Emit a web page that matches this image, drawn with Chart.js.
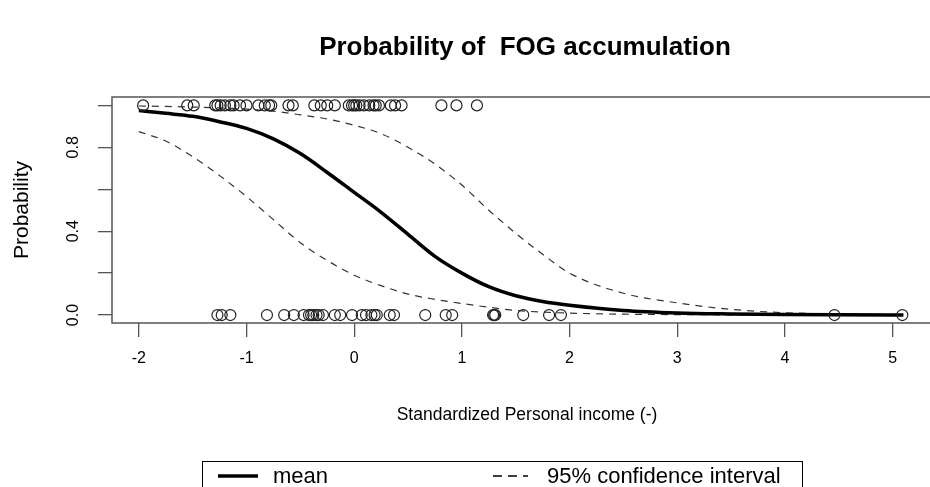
<!DOCTYPE html>
<html>
<head>
<meta charset="utf-8">
<script src="https://cdn.jsdelivr.net/npm/chart.js@4.4.0/dist/chart.umd.min.js"></script>
<style>
  html, body { margin: 0; padding: 0; background: #fff; }
</style>
</head>
<body>
<canvas id="fog" width="930" height="487"></canvas>
<script>
// fitted curves
const curveX = [-2, -1.75, -1.5, -1.25, -1, -0.75, -0.5, -0.25, 0, 0.25, 0.5, 0.75, 1, 1.25, 1.5, 1.75, 2, 2.5, 3, 3.5, 4, 4.5, 5, 5.1];
const meanProb = [0.975, 0.962, 0.948, 0.922, 0.89, 0.84, 0.77, 0.68, 0.585, 0.49, 0.385, 0.28, 0.2, 0.135, 0.092, 0.065, 0.047, 0.022, 0.01, 0.005, 0.002, 0.001, 0.0005, 0.0004];
const lowerCI = [0.875, 0.83, 0.755, 0.665, 0.565, 0.455, 0.345, 0.26, 0.19, 0.14, 0.1, 0.075, 0.055, 0.037, 0.022, 0.014, 0.009, 0.004, 0.002, 0.001, 0.0005, 0.0003, 0.0002, 0.0001];
const upperCI = [0.997, 0.995, 0.992, 0.988, 0.982, 0.972, 0.955, 0.935, 0.905, 0.865, 0.8, 0.72, 0.62, 0.5, 0.39, 0.29, 0.2, 0.104, 0.058, 0.027, 0.011, 0.005, 0.002, 0.0015];

// observations (income where FOG = 1 and FOG = 0)
const incomeFog1 = [-1.96, -1.55, -1.49, -1.29, -1.27, -1.24, -1.2, -1.15, -1.12, -1.06, -1.0, -0.89, -0.83, -0.79, -0.77, -0.61, -0.57, -0.37, -0.31, -0.25, -0.18, -0.05, -0.02, 0.0, 0.02, 0.05, 0.09, 0.14, 0.18, 0.2, 0.23, 0.34, 0.38, 0.44, 0.81, 0.95, 1.14];
const incomeFog0 = [-1.27, -1.23, -1.15, -0.81, -0.65, -0.56, -0.47, -0.42, -0.4, -0.38, -0.35, -0.33, -0.29, -0.18, -0.13, -0.02, 0.07, 0.11, 0.16, 0.19, 0.21, 0.33, 0.37, 0.66, 0.85, 0.91, 1.29, 1.3, 1.31, 1.57, 1.81, 1.92, 4.46, 5.09];

const xTicks = [-2, -1, 0, 1, 2, 3, 4, 5];
const yTicks = [0, 0.2, 0.4, 0.6, 0.8, 1.0];
const yTickLabels = ['0.0', '0.4', '0.8'];

const FONT = '"Liberation Sans", Arial, Helvetica, sans-serif';
const AXIS = '#555';

const toPts = (xs, ys) => xs.map((x, i) => ({ x: x, y: ys[i] }));

// R-style bits: box, title, axis titles, rotated y labels, legend
const rDecor = {
  id: 'rDecor',
  afterDraw(chart) {
    const { ctx, chartArea: a, scales } = chart;
    const y = scales.y;
    ctx.save();

    ctx.strokeStyle = AXIS;
    ctx.lineWidth = 1.5;
    ctx.strokeRect(a.left, a.top, a.right - a.left + 20, a.bottom - a.top);

    ctx.fillStyle = '#000';
    ctx.textAlign = 'center';
    ctx.textBaseline = 'middle';

    ctx.font = 'bold 26px ' + FONT;
    ctx.fillText('Probability of  FOG accumulation', 525, 48);

    ctx.font = '17.5px ' + FONT;
    ctx.fillText('Standardized Personal income (-)', 527, 415);

    ctx.save();
    ctx.font = '21px ' + FONT;
    ctx.translate(22, (a.top + a.bottom) / 2);
    ctx.rotate(-Math.PI / 2);
    ctx.fillText('Probability', 0, 0);
    ctx.restore();

    ctx.font = '16px ' + FONT;
    yTickLabels.forEach(lbl => {
      ctx.save();
      ctx.translate(74, y.getPixelForValue(parseFloat(lbl)));
      ctx.rotate(-Math.PI / 2);
      ctx.fillText(lbl, 0, 0);
      ctx.restore();
    });

    // legend
    ctx.strokeStyle = '#000';
    ctx.lineWidth = 1;
    ctx.strokeRect(202.5, 461.5, 600, 40);
    ctx.lineWidth = 3.5;
    ctx.beginPath();
    ctx.moveTo(218, 476);
    ctx.lineTo(258, 476);
    ctx.stroke();
    ctx.lineWidth = 1.3;
    ctx.setLineDash([9, 6]);
    ctx.beginPath();
    ctx.moveTo(493, 476);
    ctx.lineTo(528, 476);
    ctx.stroke();
    ctx.setLineDash([]);
    ctx.textAlign = 'left';
    ctx.font = '22px ' + FONT;
    ctx.fillText('mean', 273, 477);
    ctx.fillText('95% confidence interval', 547, 477);

    ctx.restore();
  }
};

new Chart(document.getElementById('fog'), {
  type: 'scatter',
  data: {
    datasets: [
      {
        label: 'FOG = 1',
        data: incomeFog1.map(x => ({ x: x, y: 1 })),
        pointRadius: 5.5,
        pointBorderWidth: 1.2,
        borderColor: '#222',
        backgroundColor: 'rgba(0,0,0,0)',
      },
      {
        label: 'FOG = 0',
        data: incomeFog0.map(x => ({ x: x, y: 0 })),
        pointRadius: 5.5,
        pointBorderWidth: 1.2,
        borderColor: '#222',
        backgroundColor: 'rgba(0,0,0,0)',
      },
      {
        label: 'mean',
        data: toPts(curveX, meanProb),
        showLine: true,
        pointRadius: 0,
        borderColor: '#000',
        borderWidth: 3.5,
        cubicInterpolationMode: 'monotone',
      },
      {
        label: '95% confidence interval',
        data: toPts(curveX, lowerCI),
        showLine: true,
        pointRadius: 0,
        borderColor: '#333',
        borderWidth: 1.2,
        borderDash: [7, 6],
        cubicInterpolationMode: 'monotone',
      },
      {
        label: 'upper',
        data: toPts(curveX, upperCI),
        showLine: true,
        pointRadius: 0,
        borderColor: '#333',
        borderWidth: 1.2,
        borderDash: [7, 6],
        cubicInterpolationMode: 'monotone',
      },
    ],
  },
  options: {
    responsive: false,
    animation: false,
    layout: {
      padding: { top: 97, left: 0, right: 0, bottom: 0 },
    },
    plugins: {
      legend: { display: false },
      tooltip: { enabled: false },
    },
    scales: {
      x: {
        type: 'linear',
        min: -2.249,
        max: 5.285,
        afterBuildTicks: (s) => { s.ticks = xTicks.map(v => ({ value: v })); },
        afterFit: (s) => { s.height = 164; },
        border: { display: false },
        grid: { drawOnChartArea: false, drawTicks: true, tickLength: 14, color: AXIS, lineWidth: 1.3 },
        ticks: {
          color: '#000',
          padding: 12,
          maxRotation: 0,
          font: { family: FONT, size: 16 },
        },
      },
      y: {
        type: 'linear',
        min: -0.038,
        max: 1.04,
        afterBuildTicks: (s) => { s.ticks = yTicks.map(v => ({ value: v })); },
        afterFit: (s) => { s.width = 112; },
        border: { display: false },
        grid: { drawOnChartArea: false, drawTicks: true, tickLength: 14, color: AXIS, lineWidth: 1.3 },
        ticks: { display: false },
      },
    },
  },
  plugins: [rDecor],
});
</script>
</body>
</html>
